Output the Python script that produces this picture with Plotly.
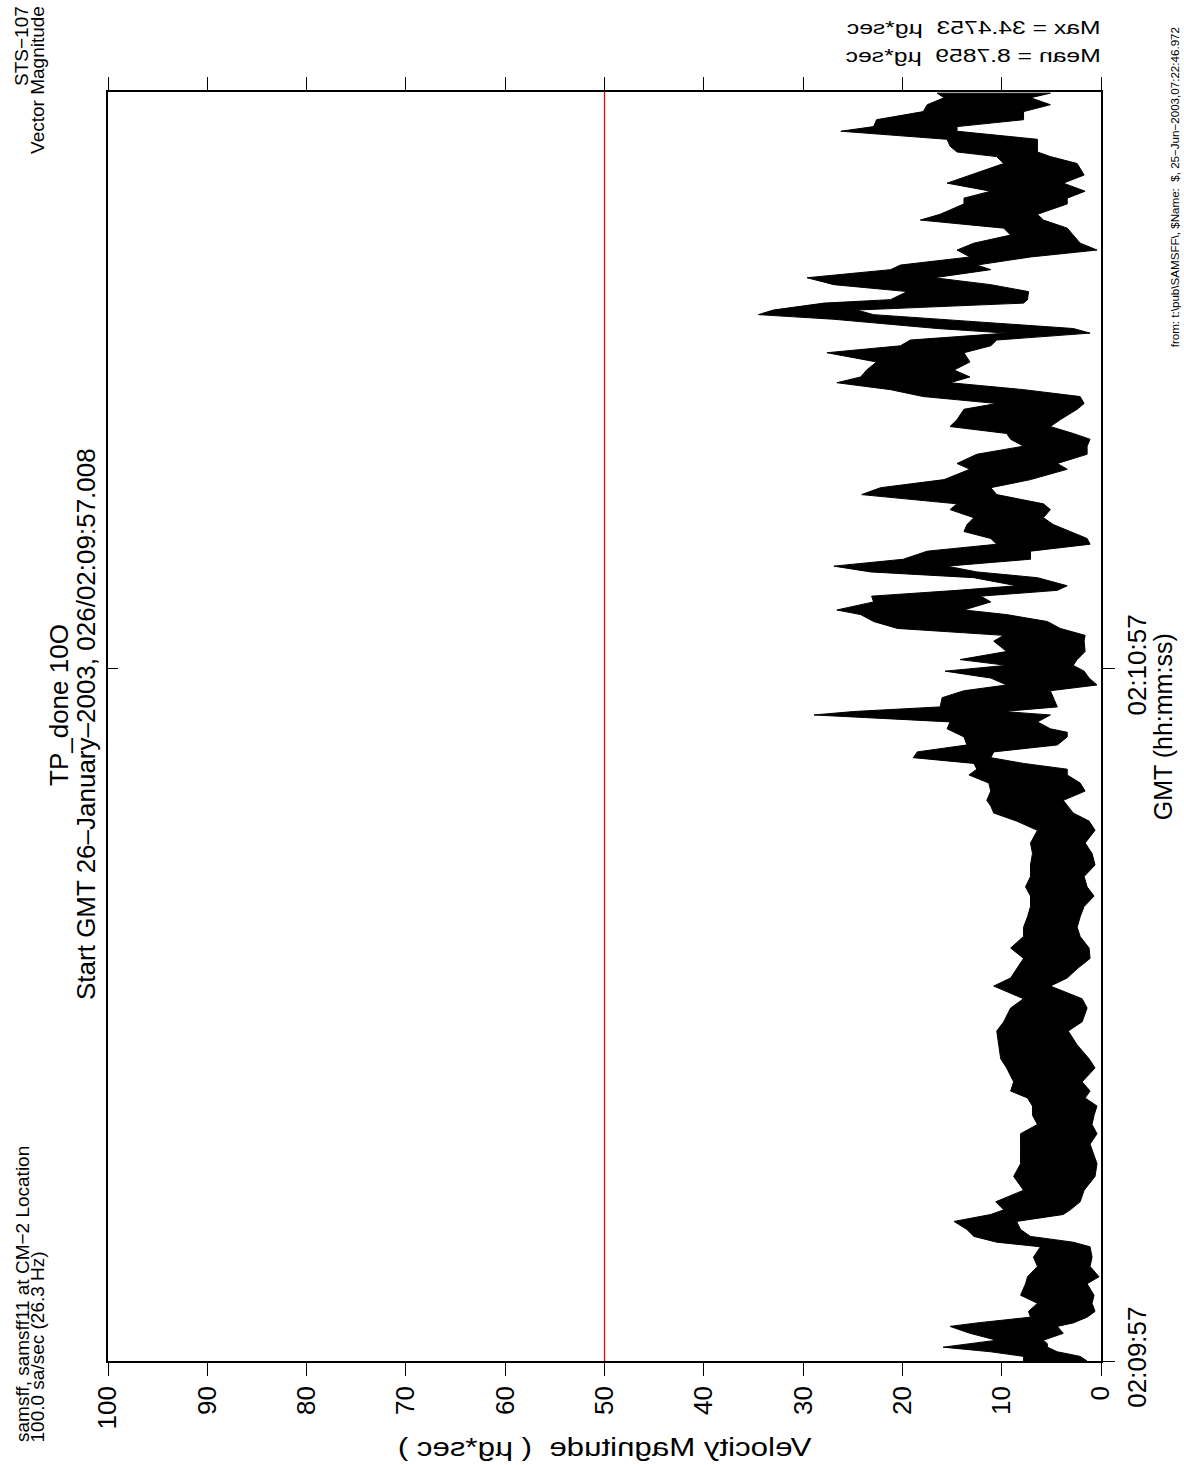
import plotly.graph_objects as go

# ---- data (envelope of the 100 sa/s trace) ----
time_s = [0.0, 0.4, 0.8, 1.2, 1.5, 1.8, 2.4, 3.0, 3.3, 3.8, 4.3, 5.0, 5.7, 6.7, 7.3, 8.2, 9.0, 9.9,
          10.3, 10.8, 11.4, 12.1, 12.7, 13.1, 13.8, 14.8, 16.0, 17.1, 18.8, 19.7, 20.5, 21.3, 22.1,
          22.8, 23.4, 24.2, 25.4, 26.2, 27.4, 28.6, 29.4, 30.6, 31.4, 32.5, 33.2, 34.0, 34.9, 35.8,
          36.8, 37.6, 38.5, 39.4, 40.3, 41.1, 42.0, 43.0, 44.0, 44.9, 46.0, 46.8, 47.5, 48.1, 48.6,
          49.4, 50.1, 50.8, 51.3, 51.8, 52.3, 52.8, 53.4, 54.1, 54.5, 54.8, 55.4, 56.0, 56.3, 56.7,
          57.5, 58.1, 58.6, 59.2, 59.8, 60.3, 60.8, 61.5, 62.4, 62.9, 63.5, 64.1, 64.7, 65.1, 65.8,
          66.3, 66.8, 67.2, 67.9, 68.4, 68.9, 69.5, 70.2, 70.8, 71.3, 71.9, 72.5, 73.1, 73.8, 74.3,
          75.1, 75.7, 76.4, 77.3, 77.8, 78.6, 79.3, 79.9, 80.4, 81.0, 81.6, 82.5, 83.0, 83.6, 84.2,
          84.8, 85.3, 85.9, 86.6, 87.4, 88.0, 88.5, 89.1, 89.5, 90.3, 90.7, 91.1, 91.7, 92.0, 92.7,
          93.3, 93.9, 94.6, 95.0, 95.7, 96.3, 96.9, 97.6, 98.2, 98.9, 99.4, 100.3, 100.8, 101.4,
          102.1, 102.8, 103.4, 103.8, 104.4, 104.8, 105.3, 105.9, 106.6, 107.0, 107.6, 108.3, 108.9,
          109.5, 109.9]
vel_lo = [1.4, 2.1, 4.4, 5.4, 5.4, 5.8, 3.8, 4.4, 2.8, 1.4, 0.6, 0.9, 0.7, 1.4, 0.2, 1.1, 0.9, 1.1,
          2.8, 7.1, 8.1, 8.5, 3.8, 3.1, 2.1, 1.7, 0.6, 0.4, 1.1, 0.4, 0.9, 0.7, 0.4,
          1.6, 1.1, 1.9, 0.6, 1.2, 2.4, 3.3, 1.9, 1.4, 1.9, 5.1, 3.4, 2.4, 1.1, 1.2,
          2.1, 2.4, 2.1, 1.7, 0.7, 1.4, 1.7, 0.6, 0.9, 1.6, 0.6, 1.2, 2.8, 3.3, 3.8,
          1.6, 2.1, 3.4, 3.4, 7.8, 11.1, 10.8, 4.4, 3.4, 3.4, 5.1, 6.4, 5.1, 9.8, 4.4,
          4.8, 5.1, 0.4, 1.2, 1.7, 2.8, 2.4, 1.6, 1.7, 1.6, 4.1, 5.4, 9.5, 13.8, 11.1,
          12.1, 4.4, 3.4, 6.4, 12.5, 15.5, 7.1, 7.1, 1.1, 1.4, 3.1, 4.8, 5.8, 5.1, 5.8,
          10.5, 11.1, 7.1, 3.4, 4.4, 1.4, 1.4, 1.1, 2.8, 5.1, 4.1, 2.4, 1.7, 2.1, 7.8,
          15.2, 13.2, 14.8, 13.2, 13.8, 11.1, 10.5, 1.1, 2.8, 16.2, 22.9, 24.6, 7.8, 7.4, 7.3,
          11.1, 16.8, 11.1, 12.5, 7.1, 0.4, 2.1, 2.8, 3.4, 5.8, 6.4, 3.4, 3.4, 1.6,
          3.8, 1.7, 2.1, 2.4, 5.1, 6.4, 6.4, 6.4, 14.5, 14.5, 7.8, 7.8, 5.1,
          7.1, 5.1]
vel_hi = [7.8, 7.8, 11.1, 15.9, 13.2, 10.5, 13.2, 15.2, 12.5, 7.1, 7.3, 6.4, 8.1, 7.6, 7.4, 6.4, 6.8, 6.1,
          10.5, 12.8, 13.5, 14.8, 11.1, 9.8, 10.6, 7.8, 8.8, 8.1, 8.1, 8.1, 6.4, 6.9, 6.9,
          7.4, 9.1, 8.8, 9.5, 10.1, 10.3, 10.5, 9.8, 9.1, 7.8, 10.8, 9.1, 8.5, 7.8, 9.1,
          7.8, 7.8, 7.4, 7.1, 7.1, 7.6, 7.1, 7.1, 6.9, 7.1, 6.4, 8.5, 10.8, 11.1, 11.5,
          11.1, 11.3, 13.3, 12.5, 12.8, 18.9, 18.5, 13.5, 13.8, 14.8, 15.5, 15.2, 28.9, 24.9, 16.2,
          16.0, 13.8, 9.5, 11.1, 15.7, 9.5, 14.2, 9.5, 10.8, 9.8, 20.5, 22.9, 24.2, 26.6, 22.9,
          23.1, 14.5, 8.5, 12.8, 23.2, 26.9, 19.9, 17.5, 10.5, 11.1, 13.8, 13.5, 12.8, 15.2, 14.5,
          24.1, 22.2, 15.8, 13.2, 14.5, 12.5, 7.8, 9.1, 9.5, 15.2, 14.5, 13.8, 10.5, 17.9, 21.2,
          26.6, 24.2, 23.6, 22.6, 27.6, 20.2, 19.2, 9.5, 16.5, 26.9, 34.5, 33.0, 27.9, 21.2, 19.5,
          26.9, 29.6, 21.2, 20.2, 13.2, 14.5, 12.8, 9.1, 9.8, 18.2, 16.2, 13.8, 13.8, 11.1,
          15.5, 13.2, 11.1, 9.8, 10.5, 14.5, 15.2, 15.5, 26.2, 22.9, 22.6, 17.9, 17.5,
          15.8, 16.5]

mag_ticks = [100, 90, 80, 70, 60, 50, 40, 30, 20, 10, 0]
time_tickvals = [0, 60]
time_ticktext = ["02:09:57", "02:10:57"]
time_range = [0, 110]
mag_range = [100, 0]
red_level = [50, 50]

FONT = "Liberation Sans, Arial, Helvetica, sans-serif"

fig = go.Figure()
fig.add_trace(go.Scatter(
    x=vel_lo + vel_hi[::-1], y=time_s + time_s[::-1],
    mode="lines", fill="toself", fillcolor="black",
    line=dict(color="black", width=1), hoverinfo="skip", showlegend=False))
fig.add_trace(go.Scatter(
    x=red_level, y=time_range, yaxis="y2", mode="lines",
    line=dict(color="red", width=1.3), hoverinfo="skip", showlegend=False))

fig.update_layout(
    width=1184, height=1465,
    margin=dict(l=108, r=83.3, t=92, b=104, autoexpand=False),
    paper_bgcolor="white", plot_bgcolor="white",
    font=dict(family=FONT, color="black"),
    showlegend=False,
    xaxis=dict(range=mag_range, tickvals=mag_ticks, ticktext=[str(v) for v in mag_ticks],
               ticks="outside", ticklen=13, tickwidth=1.2, tickcolor="black",
               showline=True, linecolor="black", linewidth=1.5, mirror="ticks",
               tickangle=-90, tickfont=dict(size=26, family=FONT),
               showgrid=False, zeroline=False, automargin=False),
    yaxis=dict(range=time_range, side="right", tickvals=time_tickvals, ticktext=time_ticktext,
               ticks="outside", ticklen=12, tickwidth=1.2, tickcolor="black",
               showline=True, linecolor="black", linewidth=1.5, mirror=True,
               tickangle=-90, tickfont=dict(size=26, family=FONT),
               showgrid=False, zeroline=False, automargin=False),
    yaxis2=dict(range=time_range, overlaying="y", side="left", tickvals=time_tickvals,
                ticks="inside", ticklen=10, tickwidth=1.2, tickcolor="black",
                showticklabels=False, showline=False, showgrid=False, zeroline=False,
                automargin=False),
)

def px_to_paper_x(px):
    return (px - 108) / (1100.7 - 108)

def px_to_paper_y(py):
    return (1361 - py) / (1361 - 92)

annotations = [
    # 0,1: mirrored statistics (stretched/mirrored in post script)
    dict(text="Max = 34.4753  µg*sec", x=px_to_paper_x(973), y=px_to_paper_y(28),
         xanchor="center", yanchor="middle", font=dict(size=19)),
    dict(text="Mean = 8.7859  µg*sec", x=px_to_paper_x(973), y=px_to_paper_y(56),
         xanchor="center", yanchor="middle", font=dict(size=19)),
    # 2: y-label along bottom (mirrored/stretched in post script like the statistics)
    dict(text="Velocity Magnitude  ( µg*sec )", x=px_to_paper_x(604), y=px_to_paper_y(1447),
         xanchor="center", yanchor="middle", font=dict(size=25)),
    dict(text="TP_done 10O", x=px_to_paper_x(59), y=px_to_paper_y(705),
         xanchor="center", yanchor="middle", textangle=-90, font=dict(size=26)),
    dict(text="Start GMT 26–January–2003, 026/02:09:57.008", x=px_to_paper_x(86),
         y=px_to_paper_y(724), xanchor="center", yanchor="middle", textangle=-90,
         font=dict(size=26)),
    dict(text="samsff, samsff11 at CM−2 Location", x=px_to_paper_x(22), y=px_to_paper_y(1444),
         xanchor="center", yanchor="bottom", textangle=-90, font=dict(size=19)),
    dict(text="100.0 sa/sec (26.3 Hz)", x=px_to_paper_x(38), y=px_to_paper_y(1444),
         xanchor="center", yanchor="bottom", textangle=-90, font=dict(size=19)),
    dict(text="STS−107", x=px_to_paper_x(22), y=px_to_paper_y(4),
         xanchor="center", yanchor="top", textangle=-90, font=dict(size=19)),
    dict(text="Vector Magnitude", x=px_to_paper_x(38), y=px_to_paper_y(4),
         xanchor="center", yanchor="top", textangle=-90, font=dict(size=19)),
    dict(text="from: t:\\pub\\SAMSFF\\, $Name:  $, 25−Jun−2003,07:22:46.972",
         x=px_to_paper_x(1174), y=px_to_paper_y(25), xanchor="center", yanchor="top",
         textangle=-90, font=dict(size=11.6)),
    dict(text="GMT (hh:mm:ss)", x=px_to_paper_x(1163), y=px_to_paper_y(727),
         xanchor="center", yanchor="middle", textangle=-90, font=dict(size=25)),
]
for a in annotations:
    a.update(xref="paper", yref="paper", showarrow=False)
fig.update_layout(annotations=annotations)

post = """
(function(){
  document.body.style.margin = '0';
  document.body.style.overflow = 'hidden';
  document.documentElement.style.overflow = 'hidden';
  var root = document.getElementById('{plot_id}');
  if(!root) return;
  var tf = {'0': 'scaleX(-1.3)', '1': 'scaleX(-1.3)', '2': 'scaleX(-1.25)'};
  root.querySelectorAll('g.annotation').forEach(function(g){
    var i = g.getAttribute('data-index');
    if(tf[i]){
      var t = g.querySelector('text');
      if(t){ t.style.transformBox = 'fill-box'; t.style.transformOrigin = 'center'; t.style.transform = tf[i]; }
    }
  });
})();
"""

fig.write_html("out.html", post_script=post, config={"displayModeBar": False})
